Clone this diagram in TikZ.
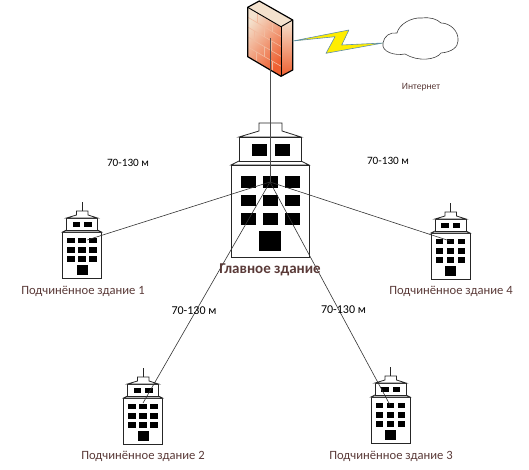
\documentclass[tikz,border=0pt]{standalone}
\usepackage{fontspec}
\setmainfont{Carlito}
\definecolor{labelbrown}{HTML}{5A3A38}
\definecolor{brickred}{HTML}{EE5F30}
\definecolor{brickpale}{HTML}{F4E2CE}
\definecolor{boltedge}{HTML}{5F8FA8}
\newcommand{\buildingwindow}[2]{\fill (#1-7.5,#2-5.75) rectangle ++(15,11.5);}
\tikzset{
  building/.pic={
    \draw[building line,fill=white] (-39,0) rectangle (39,-92);
    \draw[building line,fill=white] (-39,-92) -- (-31,-96) -- (31,-96) -- (39,-92) -- cycle;
    \draw[building line,fill=white] (-31,-96) rectangle (31,-120);
    \draw[building line,fill=white] (-31,-120) -- (-11,-126) -- (-11,-134) -- (12,-134) -- (12,-126) -- (31,-120) -- cycle;
    \draw[building line] (0,-134) -- (0,-152);
    \buildingwindow{-11}{-107}
    \buildingwindow{12}{-107}
    \buildingwindow{-22}{-75}
    \buildingwindow{0}{-75}
    \buildingwindow{22}{-75}
    \buildingwindow{-22}{-56.5}
    \buildingwindow{0}{-56.5}
    \buildingwindow{22}{-56.5}
    \buildingwindow{-22}{-38}
    \buildingwindow{0}{-38}
    \buildingwindow{22}{-38}
    \fill (-11,-26) rectangle (11,-6);
  },
  building line/.style={black!85,line width=0.8pt},
  link/.style={black!80,line width=0.6pt},
  sub label/.style={text=labelbrown,font=\fontsize{12.6}{14}\selectfont,inner sep=0pt},
  main label/.style={text=labelbrown,font=\fontsize{15}{17}\bfseries\selectfont,inner sep=0pt},
  range label/.style={text=black,font=\fontsize{11.2}{13}\selectfont,inner sep=0pt},
  brick joint/.style={brickpale!70!brickred,line width=0.6pt},
}
\begin{document}
\begin{tikzpicture}[x=1pt,y=-1pt]
\useasboundingbox (0,0) rectangle (529,470);

% buildings
\pic at (270,257) {building};
\pic[scale=0.5] at (82,278) {building};
\pic[scale=0.5] at (143,444) {building};
\pic[scale=0.5] at (390.5,443) {building};
\pic[scale=0.5] at (450.5,279) {building};

% firewall
\coordinate (fwfoot) at (270,38);
\coordinate (fwport) at (293,41);
\shade[top color=brickpale,middle color=brickred!80!brickpale,bottom color=brickred,shading angle=50]
  (247.7,7.3) -- (281,26.7) -- (281,76.3) -- (247.7,56.7) -- cycle;
\fill[brickpale] (247.7,7.3) -- (259.3,1) -- (292.7,20) -- (281,26.7) -- cycle;
\shade[top color=brickpale,bottom color=brickred]
  (281,26.7) -- (292.7,20) -- (292.7,70) -- (281,76.3) -- cycle;
\begin{scope}[shift={(247.7,7.3)},x={(33.3pt,-19.4pt)},y={(0pt,-49.4pt)}]
\draw[brick joint] (0,0.2) -- (1,0.2);
\draw[brick joint] (0,0.4) -- (1,0.4);
\draw[brick joint] (0,0.6) -- (1,0.6);
\draw[brick joint] (0,0.8) -- (1,0.8);
\draw[brick joint] (0.3,0) -- (0.3,0.2);
\draw[brick joint] (0.75,0) -- (0.75,0.2);
\draw[brick joint] (0.5,0.2) -- (0.5,0.4);
\draw[brick joint] (0.2,0.4) -- (0.2,0.6);
\draw[brick joint] (0.7,0.4) -- (0.7,0.6);
\draw[brick joint] (0.5,0.6) -- (0.5,0.8);
\draw[brick joint] (0.25,0.8) -- (0.25,1);
\draw[brick joint] (0.75,0.8) -- (0.75,1);
\end{scope}
\draw[black,line width=1.2pt,line join=round]
  (247.7,7.3) -- (259.3,1) -- (292.7,20) -- (292.7,70) -- (281,76.3) -- (247.7,56.7) -- cycle;
\draw[black,line width=0.9pt,line join=round] (247.7,7.3) -- (281,26.7) -- (292.7,20);
\draw[black,line width=0.9pt] (281,26.7) -- (281,76.3);

% cloud
\coordinate (cloudport) at (383,43);
\draw[black!75,line width=0.6pt,fill=white] (cloudport)
  .. controls (384,36) and (390,32) .. (397,33)
  .. controls (399,24) and (412,17) .. (422,18)
  .. controls (430,17) and (437,19) .. (441,23)
  .. controls (450,23) and (459,31) .. (458,41)
  .. controls (458,47) and (452,52) .. (441,53)
  .. controls (436,60) and (418,62) .. (405,54)
  .. controls (395,56) and (381,52) .. (cloudport);

% lightning bolt between firewall and cloud
\filldraw[draw=boltedge,fill=yellow!95!orange,line width=0.6pt,line join=round]
  (fwport) -- (348.9,30) -- (341.7,45) -- (cloudport) -- (326,53.3) -- (335,36.7) -- cycle;

% links
\coordinate (mainhub) at (270,182);
\coordinate (subend1) at (87,240);
\coordinate (subend2) at (143,403);
\coordinate (subend3) at (390,405);
\coordinate (subend4) at (450,241);
\draw[link,black!70] (fwfoot) -- (mainhub);
\draw[link] (mainhub) -- (subend1);
\draw[link] (mainhub) -- (subend2);
\draw[link] (mainhub) -- (subend3);
\draw[link] (mainhub) -- (subend4);

% labels
\node[main label] (mainname) at (270,270) {Главное здание};
\node[sub label] (subname1) at (83,291.5) {Подчинённое здание 1};
\node[sub label] (subname2) at (143,456) {Подчинённое здание 2};
\node[sub label] (subname3) at (391,456) {Подчинённое здание 3};
\node[sub label] (subname4) at (451,291) {Подчинённое здание 4};
\node[sub label,font=\fontsize{9.6}{11}\selectfont] (inetname) at (421,87) {Интернет};
\node[range label] (range1) at (128,163) {70-130 м};
\node[range label] (range2) at (388,161) {70-130 м};
\node[range label,font=\fontsize{12}{14}\selectfont] (range3) at (194,311) {70-130 м};
\node[range label,font=\fontsize{12}{14}\selectfont] (range4) at (343.5,309.5) {70-130 м};
\end{tikzpicture}
\end{document}
